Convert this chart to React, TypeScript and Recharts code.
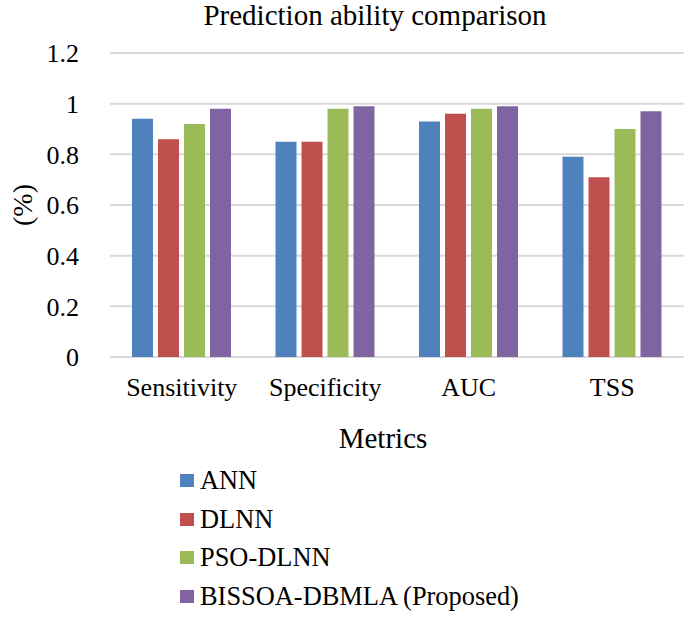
import React from "react";
import { BarChart, Bar, XAxis, YAxis, CartesianGrid, Legend, Customized } from "recharts";

const categories = ["Sensitivity", "Specificity", "AUC", "TSS"];
const annValues = [0.94, 0.85, 0.93, 0.79];
const dlnnValues = [0.86, 0.85, 0.96, 0.71];
const psoDlnnValues = [0.92, 0.98, 0.98, 0.9];
const bissoaValues = [0.98, 0.99, 0.99, 0.97];
const seriesNames = ["ANN", "DLNN", "PSO-DLNN", "BISSOA-DBMLA (Proposed)"];
const seriesKeys = ["ann", "dlnn", "pso", "bissoa"];
const seriesColors = ["#4F81BD", "#C0504D", "#9BBB59", "#8064A2"];
const yTicks = [0, 0.2, 0.4, 0.6, 0.8, 1, 1.2];
const titleText = "Prediction ability comparison";
const xTitle = "Metrics";
const yTitle = "(%)";

const data = categories.map((c, i) => ({
  name: c,
  ann: annValues[i],
  dlnn: dlnnValues[i],
  pso: psoDlnnValues[i],
  bissoa: bissoaValues[i],
}));

const FONT = "'Liberation Serif', 'Times New Roman', serif";

const Titles = () => (
  <g fill="#000" style={{ fontFamily: FONT }}>
    <text x={375} y={25} fontSize={29} textAnchor="middle" style={{ fontFamily: FONT }}>{titleText}</text>
    <text x={383} y={448} fontSize={29} textAnchor="middle" style={{ fontFamily: FONT }}>{xTitle}</text>
    <text x={22} y={205} fontSize={28} textAnchor="middle" dominantBaseline="central" transform="rotate(-90 22 205)" style={{ fontFamily: FONT }}>{yTitle}</text>
  </g>
);

const LegendContent = () => (
  <div style={{ fontFamily: FONT, fontSize: 26.4, color: "#000" }}>
    {seriesNames.map((n, i) => (
      <div key={n} style={{ display: "flex", alignItems: "center", height: 38.8, whiteSpace: "nowrap" }}>
        <span style={{ display: "inline-block", width: 14, height: 13, background: seriesColors[i], marginRight: 6 }} />
        <span>{n}</span>
      </div>
    ))}
  </div>
);

export default function App() {
  return (
    <div style={{ position: "absolute", left: 0, top: 0, width: 685, height: 638, background: "#fff", fontFamily: FONT }}>
      <BarChart
        width={685}
        height={638}
        data={data}
        margin={{ top: 53, right: 1, left: 0, bottom: 181 }}
        barSize={21}
        barGap={5}
        style={{ fontFamily: FONT }}
      >
        <CartesianGrid vertical={false} stroke="#D9D9D9" strokeWidth={2} />
        <XAxis
          dataKey="name"
          height={100}
          axisLine={false}
          tickLine={false}
          tickSize={0}
          tickMargin={21}
          interval={0}
          tick={{ fontFamily: FONT, fontSize: 26, fill: "#000", style: { fontFamily: FONT } }}
        />
        <YAxis
          width={110}
          domain={[0, 1.2]}
          ticks={yTicks}
          axisLine={false}
          tickLine={false}
          tickSize={0}
          tickMargin={31}
          tick={{ fontFamily: FONT, fontSize: 26, fill: "#000", style: { fontFamily: FONT } }}
        />
        <Legend
          layout="vertical"
          align="center"
          verticalAlign="middle"
          wrapperStyle={{ left: 180, top: 461, width: 420 }}
          content={() => <LegendContent />}
        />
        {seriesKeys.map((k, i) => (
          <Bar key={k} dataKey={k} name={seriesNames[i]} fill={seriesColors[i]} isAnimationActive={false} />
        ))}
        <Customized component={Titles} />
      </BarChart>
    </div>
  );
}
